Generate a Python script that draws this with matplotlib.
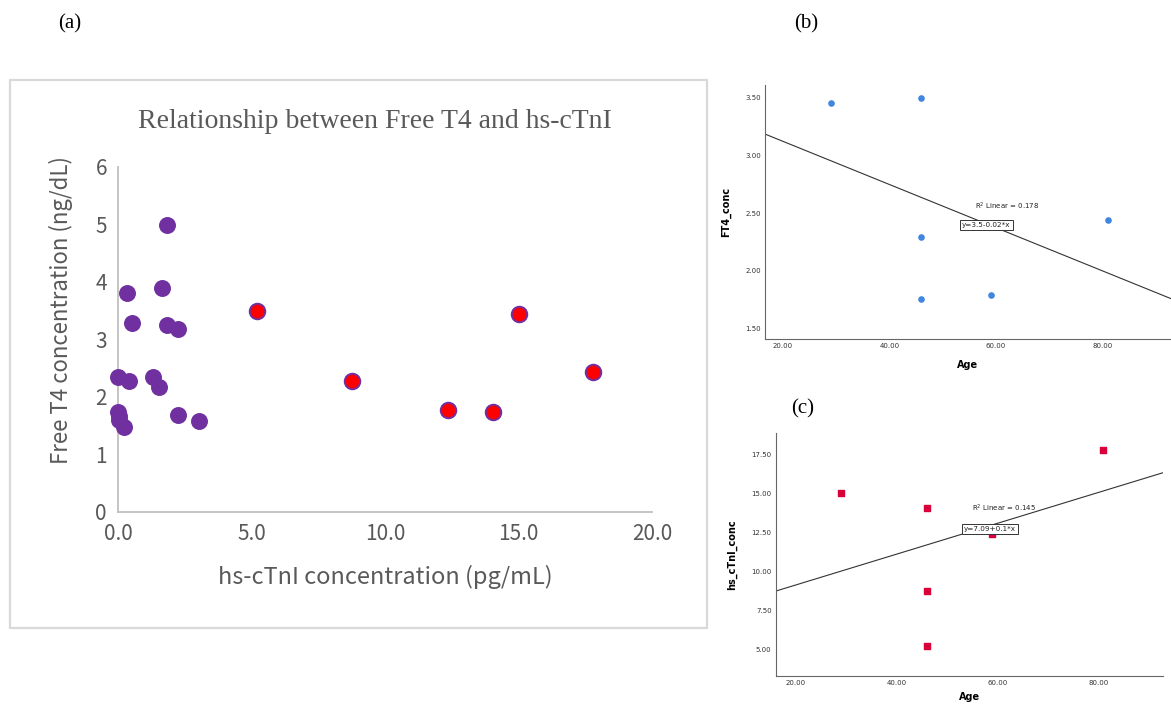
import matplotlib
matplotlib.use("Agg")
import matplotlib.pyplot as plt
from matplotlib.patches import Rectangle
import numpy as np

# ---- Panel (a) data ----
hs_ctni_normal = [1.84, 0.33, 1.64, 0.54, 1.85, 2.26, 0.01, 0.42, 1.32, 1.54, 0.01, 0.03, 0.05, 0.22, 2.23, 3.03]
ft4_normal     = [4.99, 3.80, 3.89, 3.28, 3.25, 3.18, 2.35, 2.28, 2.35, 2.18, 1.74, 1.66, 1.59, 1.48, 1.69, 1.58]
hs_ctni_high   = [5.2, 8.75, 12.35, 14.05, 15.0, 17.8]
ft4_high       = [3.49, 2.27, 1.77, 1.74, 3.44, 2.43]

# ---- Panels (b)/(c) data (same six patients) ----
age        = [29, 46, 46, 46, 59, 81]
ft4_conc   = [3.45, 3.50, 2.29, 1.76, 1.79, 2.445]
hs_conc    = [15.0, 5.2, 8.75, 14.05, 12.35, 17.8]

a_xticks = [0, 5, 10, 15, 20]
a_yticks = [0, 1, 2, 3, 4, 5, 6]
b_xticks = [20, 40, 60, 80]
b_yticks = [1.5, 2.0, 2.5, 3.0, 3.5]
c_yticks = [5.0, 7.5, 10.0, 12.5, 15.0, 17.5]

W, H = 1171, 704
fig = plt.figure(figsize=(W / 100, H / 100), dpi=100)

def fx(px):
    return px / W

def fy(py):
    return 1 - py / H

# outer frame of panel (a)
fig.patches.append(Rectangle((fx(10), fy(628)), fx(697), 548 / H, transform=fig.transFigure,
                             fill=False, edgecolor="#d9d9d9", lw=1.6))

sans = ["Noto Sans CJK SC", "DejaVu Sans"]
serif = ["Liberation Serif", "DejaVu Serif"]
grey = "#595959"

# ---- Panel (a) ----
axa = fig.add_axes([fx(118), fy(512), fx(652 - 118), (512 - 166.7) / H])
axa.scatter(hs_ctni_normal, ft4_normal, s=125, color="#7030A0", edgecolor="#7030A0", lw=1.0,
            zorder=3, clip_on=False)
axa.scatter(hs_ctni_high, ft4_high, s=125, color="#FF0000", edgecolor="#7030A0", lw=1.4,
            zorder=3, clip_on=False)
axa.set_xlim(0, 20)
axa.set_ylim(0, 6)
axa.set_xticks(a_xticks)
axa.set_xticklabels([f"{v:.1f}" for v in a_xticks])
axa.set_yticks(a_yticks)
axa.set_yticklabels([str(v) for v in a_yticks])
for s in ["top", "right"]:
    axa.spines[s].set_visible(False)
for s in ["left", "bottom"]:
    axa.spines[s].set_color("#bfbfbf")
    axa.spines[s].set_linewidth(1.3)
axa.tick_params(length=0, labelsize=15, labelcolor=grey, pad=8)
for lab in axa.get_xticklabels() + axa.get_yticklabels():
    lab.set_family(sans)
    lab.set_fontweight("light")
axa.set_xlabel("hs-cTnI concentration (pg/mL)", fontsize=17, color=grey, family=sans,
               fontweight="light", labelpad=14)
axa.set_ylabel("Free T4 concentration (ng/dL)", fontsize=16, color=grey, family=sans,
               fontweight="light", labelpad=10)
axa.yaxis.set_label_coords(-0.084, 0.585)
fig.text(fx(375), fy(122), "Relationship between Free T4 and hs-cTnI", ha="center", va="center",
         fontsize=20, color=grey, family=serif)

# ---- Panel (b) ----
axb = fig.add_axes([fx(765), fy(339), fx(1171 - 765), (339 - 85) / H])
axb.scatter(age, ft4_conc, s=14, color="#3E86E0", zorder=3)
xl_b = (16.68, 92.8)
axb.set_xlim(*xl_b)
axb.set_ylim(1.41, 3.61)
kb = np.polyfit(age, ft4_conc, 1)
xs = np.array(xl_b)
axb.plot(xs, np.polyval(kb, xs), color="#333333", lw=0.8)
axb.set_xticks(b_xticks)
axb.set_xticklabels([f"{v:.2f}" for v in b_xticks])
axb.set_yticks(b_yticks)
axb.set_yticklabels([f"{v:.2f}" for v in b_yticks])
axb.set_xlabel("Age", fontsize=7, fontweight="bold", labelpad=8)
axb.set_ylabel("FT4_conc", fontsize=7, fontweight="bold", labelpad=10)
axb.text(62, 2.555, "R$^2$ Linear = 0.178", fontsize=5, ha="center", va="center", color="#222222")
axb.text(58.2, 2.40, "y=3.5-0.02*x", fontsize=5.2, ha="center", va="center", color="#222222",
         bbox=dict(boxstyle="square,pad=0.25", fc="white", ec="#333333", lw=0.7), zorder=5)

# ---- Panel (c) ----
axc = fig.add_axes([fx(775.7), fy(676), fx(1163.3 - 775.7), (676 - 432.7) / H])
axc.scatter(age, hs_conc, s=14, marker="s", color="#D9003A", zorder=3)
xl_c = (16.03, 92.9)
axc.set_xlim(*xl_c)
axc.set_ylim(3.27, 18.88)
kc = np.polyfit(age, hs_conc, 1)
xs = np.array(xl_c)
axc.plot(xs, np.polyval(kc, xs), color="#333333", lw=0.8)
axc.set_xticks(b_xticks)
axc.set_xticklabels([f"{v:.2f}" for v in b_xticks])
axc.set_yticks(c_yticks)
axc.set_yticklabels([f"{v:.2f}" for v in c_yticks])
axc.set_xlabel("Age", fontsize=7, fontweight="bold", labelpad=4)
axc.set_ylabel("hs_cTnI_conc", fontsize=7, fontweight="bold", labelpad=10)
axc.text(61.3, 14.0, "R$^2$ Linear = 0.145", fontsize=5, ha="center", va="center", color="#222222")
axc.text(58.5, 12.7, "y=7.09+0.1*x", fontsize=5.2, ha="center", va="center", color="#222222",
         bbox=dict(boxstyle="square,pad=0.25", fc="white", ec="#333333", lw=0.7), zorder=5)

for ax in (axb, axc):
    for s in ["top", "right"]:
        ax.spines[s].set_visible(False)
    for s in ["left", "bottom"]:
        ax.spines[s].set_color("#666666")
        ax.spines[s].set_linewidth(0.8)
    ax.tick_params(length=0, labelsize=5, labelcolor="#333333", pad=3)

# panel letters
fig.text(fx(70), fy(24), "(a)", fontsize=15, family=serif, ha="center", va="center")
fig.text(fx(806), fy(24), "(b)", fontsize=15, family=serif, ha="center", va="center")
fig.text(fx(803), fy(409), "(c)", fontsize=15, family=serif, ha="center", va="center")

fig.savefig("out.png", dpi=100)
